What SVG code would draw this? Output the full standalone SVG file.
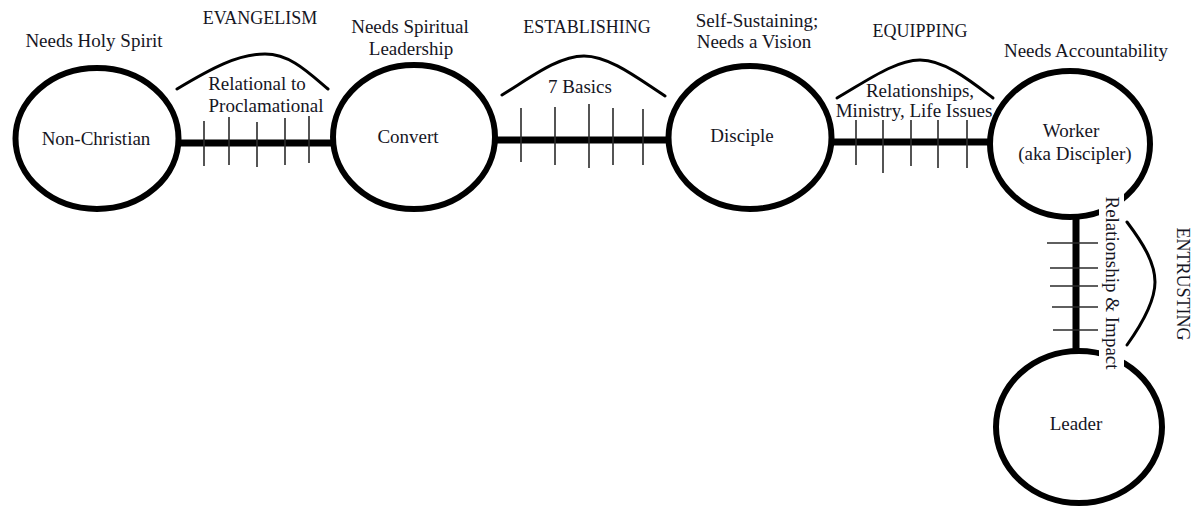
<svg xmlns="http://www.w3.org/2000/svg" width="1193" height="506" viewBox="0 0 1193 506">
  <style>
    .node { fill: none; stroke: #000; stroke-width: 6; }
    .bar { stroke: #000; stroke-width: 7; stroke-linecap: butt; fill: none; }
    .tick { stroke: #2a2a2a; stroke-width: 1.6; }
    .brace { fill: none; stroke: #000; stroke-width: 3; stroke-linecap: round; }
    text { font-family: "Liberation Serif", "Times New Roman", serif; font-size: 19px; fill: #16161f; text-anchor: middle; }
    .caps { font-size: 18px; }
    .mask { fill: #fff; stroke: none; }
  </style>

  <rect width="1193" height="506" fill="#fff"/>

  <!-- connectors: thick bars with cross ticks -->
  <g id="connectors">
    <line class="bar" x1="180" y1="143" x2="333" y2="143"/>
    <line class="tick" x1="204" y1="121" x2="204" y2="166"/>
    <line class="tick" x1="229" y1="117" x2="229" y2="165"/>
    <line class="tick" x1="257" y1="122" x2="257" y2="167"/>
    <line class="tick" x1="285" y1="118" x2="285" y2="165"/>
    <line class="tick" x1="309" y1="116" x2="309" y2="163"/>

    <line class="bar" x1="496" y1="140" x2="669" y2="140"/>
    <line class="tick" x1="521" y1="108" x2="521" y2="162"/>
    <line class="tick" x1="555" y1="107" x2="555" y2="165"/>
    <line class="tick" x1="589" y1="104" x2="589" y2="168"/>
    <line class="tick" x1="613" y1="108" x2="613" y2="165"/>
    <line class="tick" x1="643" y1="109" x2="643" y2="165"/>

    <line class="bar" x1="832" y1="142" x2="991" y2="142"/>
    <line class="tick" x1="856" y1="120" x2="856" y2="165"/>
    <line class="tick" x1="883" y1="120" x2="883" y2="173"/>
    <line class="tick" x1="911" y1="120" x2="911" y2="166"/>
    <line class="tick" x1="938" y1="120" x2="938" y2="168"/>
    <line class="tick" x1="967" y1="120" x2="967" y2="168"/>

    <line class="bar" x1="1076" y1="218" x2="1076" y2="354"/>
    <line class="tick" x1="1047" y1="243" x2="1098" y2="243"/>
    <line class="tick" x1="1050" y1="268" x2="1098" y2="268"/>
    <line class="tick" x1="1050" y1="286" x2="1098" y2="286"/>
    <line class="tick" x1="1052" y1="307" x2="1098" y2="307"/>
    <line class="tick" x1="1053" y1="330" x2="1098" y2="330"/>

    <!-- stage arcs -->
    <path class="brace" d="M177,89 C212,68 238,54 265,54 C290,54 308,72 328,89"/>
    <path class="brace" d="M502,95 C530,78 558,56 584,56 C610,56 640,80 665,96"/>
    <path class="brace" d="M837,98 C865,82 895,60 920,60 C945,60 972,82 993,98"/>
    <path class="brace" d="M1127,222 C1142,242 1155,262 1155,282 C1155,302 1142,324 1127,345"/>
  </g>

  <!-- stage nodes -->
  <g id="node-non-christian">
    <ellipse class="node" cx="97" cy="138.5" rx="81.5" ry="70.5"/>
    <text x="96" y="145">Non-Christian</text>
  </g>
  <g id="node-convert">
    <ellipse class="node" cx="414" cy="137" rx="81" ry="72"/>
    <text x="408" y="143">Convert</text>
  </g>
  <g id="node-disciple">
    <ellipse class="node" cx="750" cy="137.5" rx="81.5" ry="71.5"/>
    <text x="742" y="142">Disciple</text>
  </g>
  <g id="node-worker">
    <ellipse class="node" cx="1070" cy="144" rx="80" ry="73"/>
    <text x="1071" y="137">Worker</text>
    <text x="1075" y="160">(aka Discipler)</text>
  </g>
  <g id="node-leader">
    <ellipse class="node" cx="1079" cy="427" rx="83" ry="76"/>
    <text x="1076" y="430">Leader</text>
  </g>

  <!-- labels -->
  <g id="labels">
    <text x="94" y="47">Needs Holy Spirit</text>
    <text class="caps" x="260" y="24">EVANGELISM</text>
    <text x="257" y="90">Relational to</text>
    <text x="266" y="112">Proclamational</text>

    <text x="410" y="33">Needs Spiritual</text>
    <text x="411" y="55">Leadership</text>
    <text class="caps" x="587" y="33">ESTABLISHING</text>
    <text x="580" y="93">7 Basics</text>

    <text x="757" y="27">Self-Sustaining;</text>
    <text x="754" y="48">Needs a Vision</text>
    <text class="caps" x="920" y="37">EQUIPPING</text>
    <text x="920" y="97">Relationships,</text>
    <text x="914" y="117">Ministry, Life Issues</text>

    <text x="1086" y="57">Needs Accountability</text>

    <rect class="mask" x="1099" y="192" width="25" height="180"/>
    <text transform="translate(1106,283) rotate(90)">Relationship &amp; Impact</text>
    <text class="caps" transform="translate(1177,284) rotate(90)">ENTRUSTING</text>
  </g>
</svg>
